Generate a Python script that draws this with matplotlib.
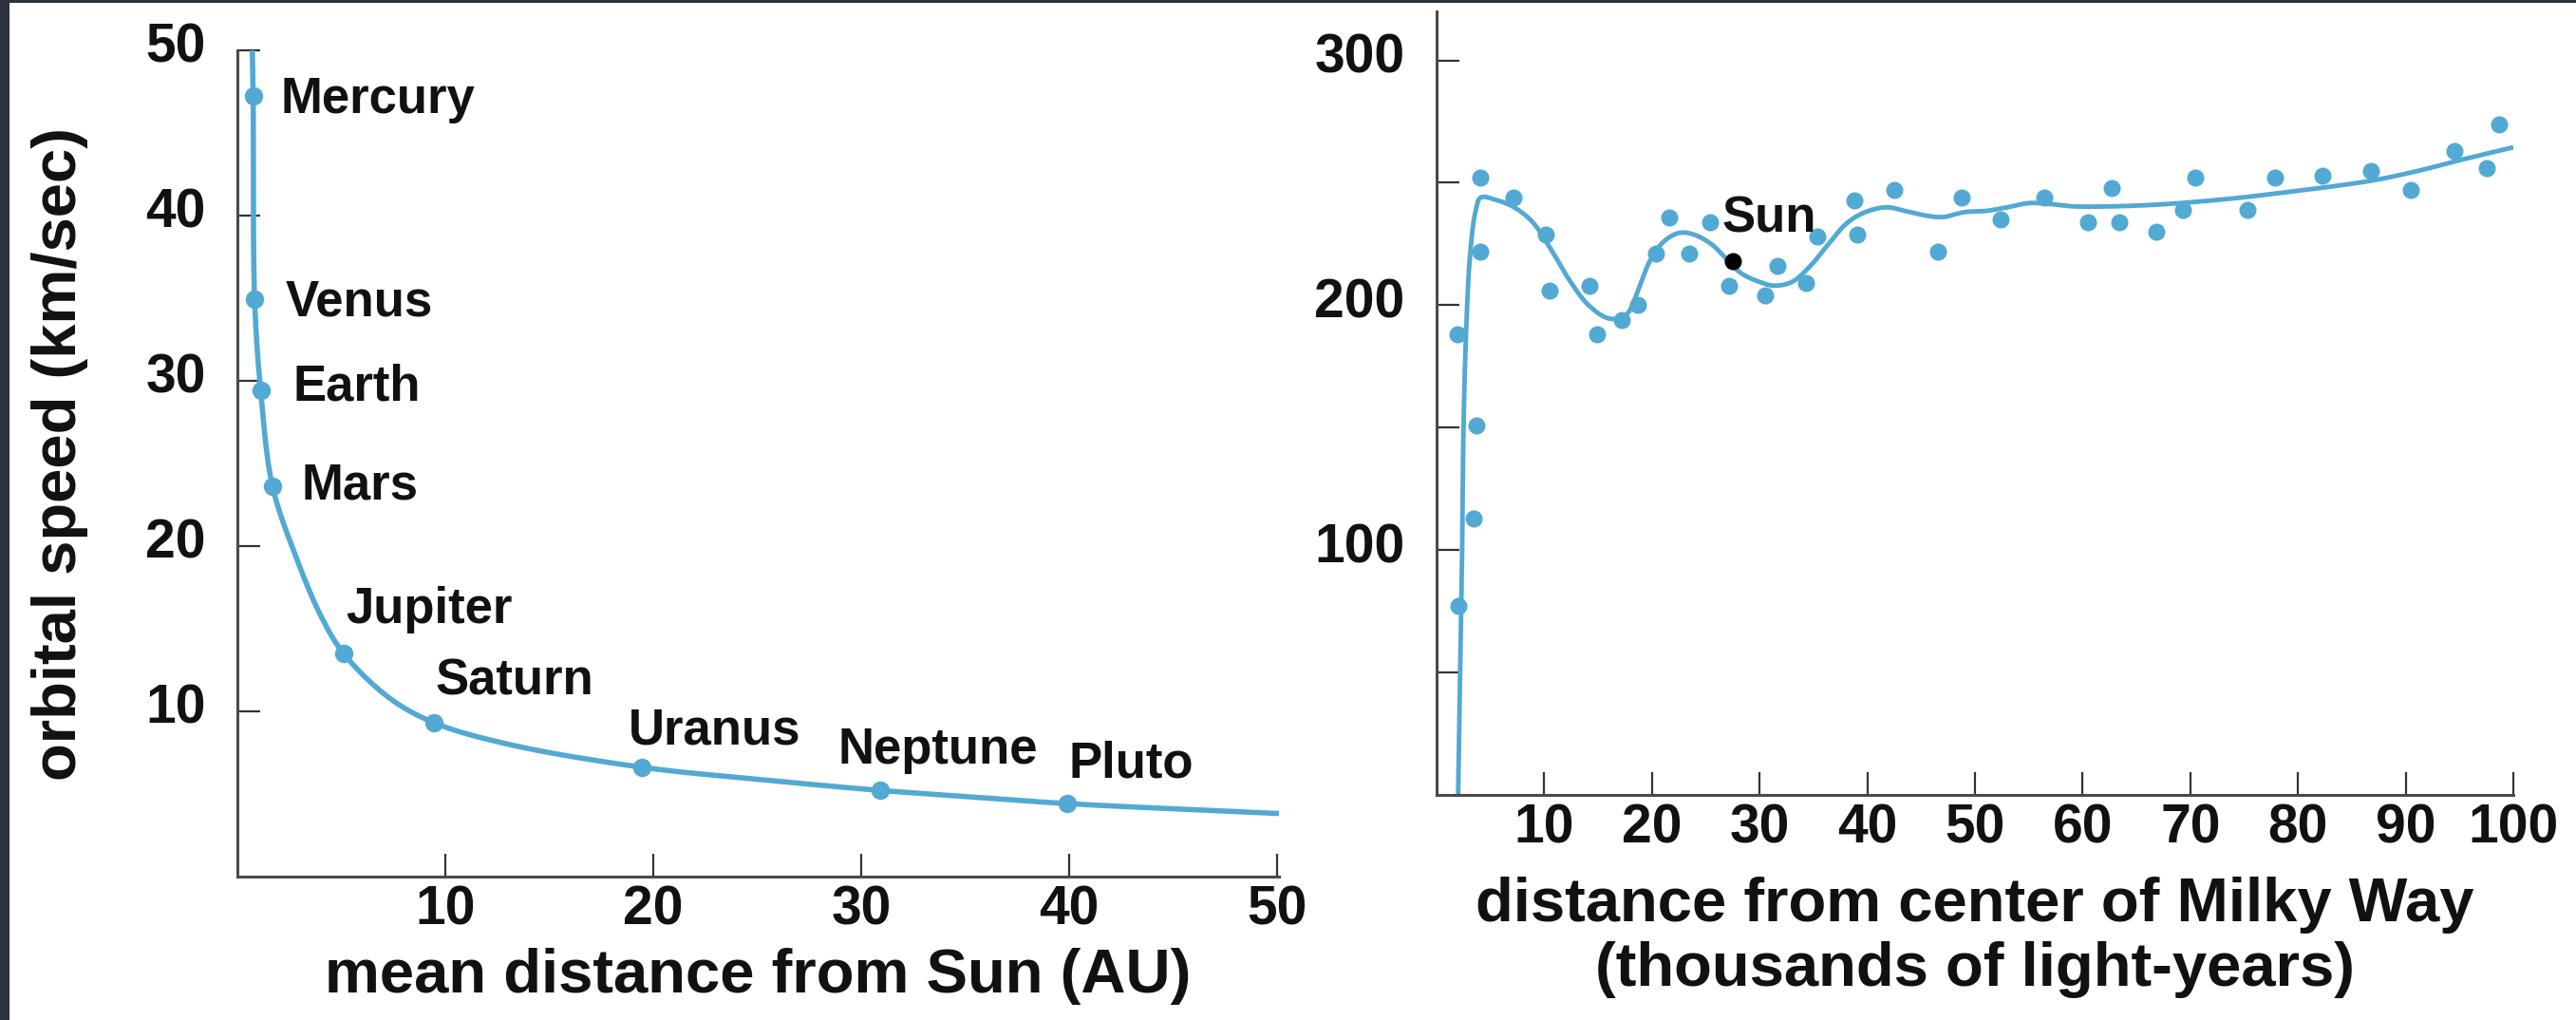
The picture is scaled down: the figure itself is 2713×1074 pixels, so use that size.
import numpy as np
import matplotlib
matplotlib.use("Agg")
import matplotlib.pyplot as plt
import matplotlib.transforms as mtransforms
from matplotlib.patches import Rectangle

# ---------------- data ----------------
# Solar system: mean distance (AU) and orbital speed (km/s)
planet_names = ["Mercury", "Venus", "Earth", "Mars", "Jupiter",
                "Saturn", "Uranus", "Neptune", "Pluto"]
planet_dist = [0.76, 0.83, 1.12, 1.69, 5.1, 9.45, 19.45, 30.9, 39.9]
planet_speed = [47.2, 34.9, 29.4, 23.6, 13.5, 9.3, 6.6, 5.2, 4.4]

# smooth trend line through the planets
kepler_x = [0.72, 0.76, 0.83, 1.12, 1.69, 2.8, 4.0, 5.1, 7.3, 9.45,
            13.0, 19.45, 25.2, 30.9, 35.4, 39.9, 50.1]
kepler_y = [50.0, 47.2, 34.9, 29.4, 23.6, 19.4, 15.8, 13.5, 10.8, 9.3,
            8.0, 6.6, 5.85, 5.2, 4.8, 4.4, 3.8]

# label anchors (left edge, baseline) for each planet
planet_label_x = [2.1, 2.33, 2.65, 3.06, 5.2, 9.5, 18.8, 28.9, 40.0]
planet_label_y = [46.2, 33.9, 28.8, 22.8, 15.3, 11.0, 8.0, 6.8, 6.0]

# Milky Way rotation: distance (thousands of ly) and speed (km/s)
galaxy_dist = [2.0, 3.4, 3.7, 1.9, 4.1, 4.1, 7.1, 10.1, 10.5, 14.2,
               14.9, 17.2, 18.7, 20.4, 21.6, 23.5, 25.4, 27.2, 30.5, 31.7,
               34.3, 35.4, 38.8, 39.1, 42.5, 46.6, 48.8, 52.4, 56.4, 60.5,
               62.7, 63.4, 66.8, 69.3, 70.5, 75.3, 77.9, 82.3, 86.8, 90.5,
               94.5, 97.5, 98.7]
galaxy_speed = [77, 113, 151, 188, 252, 222, 244, 229, 206, 208,
                188, 194, 200, 221, 236, 221, 234, 208, 204, 216,
                209, 228, 243, 229, 247, 222, 244, 235, 244, 234,
                248, 234, 230, 239, 252, 239, 252, 253, 255, 247,
                263, 256, 274]

sun_dist, sun_speed = 27.5, 218

rotation_x = [2.0, 2.35, 2.5, 2.75, 3.1, 3.6, 4.1, 5.5, 7.2, 8.9,
              10.6, 12.3, 14.0, 15.7, 16.7, 17.7, 18.8, 19.8, 21.1, 22.5,
              23.8, 25.5, 26.9, 28.3, 30.0, 31.3, 33.0, 34.7, 36.4, 38.1,
              39.8, 41.8, 43.5, 45.6, 47.0, 49.0, 51.0, 53.0, 55.0, 56.6,
              59.0, 63.0, 67.0, 71.0, 75.0, 79.0, 83.0, 87.0, 91.0, 95.0,
              100.0]
rotation_y = [0, 92, 150, 190, 220, 238, 244, 243, 240, 234,
              223, 210.5, 200.5, 195, 194.5, 196.5, 207, 218, 226, 229.5,
              229, 225, 219, 213, 209.5, 208, 209.5, 216, 225, 233.5,
              238, 240, 238.5, 236.5, 236, 238, 238.5, 240, 241.7, 241.5,
              240.4, 240.4, 241.1, 242.4, 244.1, 246.2, 248.4, 251, 254.7, 259.2,
              264.5]

left_xticks = [10, 20, 30, 40, 50]
left_yticks = [10, 20, 30, 40, 50]
right_xticks = [10, 20, 30, 40, 50, 60, 70, 80, 90, 100]
right_yticks = [50, 100, 150, 200, 250, 300]
right_ytick_labels = ["", "100", "", "200", "", "300"]

# ---------------- style ----------------
BLUE = "#52a9d3"
INK = "#111111"
AXIS = "#4a4a4a"
FONT = "Liberation Sans"
TICK_FS = 41
LABEL_FS = 47
NOTE_FS = 38

W, H, DPI = 2713, 1074, 100
fig = plt.figure(figsize=(W / DPI, H / DPI), dpi=DPI)
fig.patch.set_facecolor("white")

# dark frame strips along the left and top edges
fig.patches.append(Rectangle((0, 0), 10 / W, 1, transform=fig.transFigure,
                             facecolor="#2d3241", edgecolor="none", zorder=0))
fig.patches.append(Rectangle((0, 1 - 2.5 / H), 1, 2.5 / H, transform=fig.transFigure,
                             facecolor="#2d3241", edgecolor="none", zorder=0))


def fpos(x0, x1, ytop, ybot):
    return [x0 / W, 1 - ybot / H, (x1 - x0) / W, (ybot - ytop) / H]


ax1 = fig.add_axes(fpos(250, 1347, 52.7, 922.7))
ax2 = fig.add_axes(fpos(1513, 2647, 12, 837))


def smooth_curve(ax, xs, ys, n=24, alpha=0.5):
    """Centripetal Catmull-Rom curve through the given points (screen space)."""
    P = ax.transData.transform(np.column_stack([xs, ys]))
    P = np.vstack([2 * P[0] - P[1], P, 2 * P[-1] - P[-2]])
    out = []
    for i in range(1, len(P) - 2):
        p0, p1, p2, p3 = P[i - 1], P[i], P[i + 1], P[i + 2]
        t0 = 0.0
        t1 = t0 + max(np.linalg.norm(p1 - p0), 1e-6) ** alpha
        t2 = t1 + max(np.linalg.norm(p2 - p1), 1e-6) ** alpha
        t3 = t2 + max(np.linalg.norm(p3 - p2), 1e-6) ** alpha
        t = np.linspace(t1, t2, n, endpoint=False)[:, None]
        A1 = (t1 - t) / (t1 - t0) * p0 + (t - t0) / (t1 - t0) * p1
        A2 = (t2 - t) / (t2 - t1) * p1 + (t - t1) / (t2 - t1) * p2
        A3 = (t3 - t) / (t3 - t2) * p2 + (t - t2) / (t3 - t2) * p3
        B1 = (t2 - t) / (t2 - t0) * A1 + (t - t0) / (t2 - t0) * A2
        B2 = (t3 - t) / (t3 - t1) * A2 + (t - t1) / (t3 - t1) * A3
        out.append((t2 - t) / (t2 - t1) * B1 + (t - t1) / (t2 - t1) * B2)
    out.append(P[-2][None, :])
    D = ax.transData.inverted().transform(np.vstack(out))
    return D[:, 0], D[:, 1]


def style_axes(ax):
    for side in ("top", "right"):
        ax.spines[side].set_visible(False)
    for side in ("left", "bottom"):
        ax.spines[side].set_color(AXIS)
        ax.spines[side].set_linewidth(2.2)
    ax.tick_params(direction="in", length=17, width=1.6, color="#333333",
                   labelsize=TICK_FS, labelcolor=INK)
    ax.tick_params(axis="x", pad=6)
    ax.tick_params(axis="y", pad=24)
    for lab in ax.get_xticklabels() + ax.get_yticklabels():
        lab.set_fontfamily(FONT)
        lab.set_fontweight("bold")
    shift = mtransforms.ScaledTranslation(0, 8 / DPI, fig.dpi_scale_trans)
    for lab in ax.get_yticklabels():
        lab.set_transform(lab.get_transform() + shift)


# ---------------- left panel: planets ----------------
ax1.set_xlim(0, 50.1)
ax1.set_ylim(0, 50)
ax1.set_xticks(left_xticks)
ax1.set_yticks(left_yticks)
ax1.set_xticklabels([str(v) for v in left_xticks])
ax1.set_yticklabels([str(v) for v in left_yticks])
style_axes(ax1)

cx, cy = smooth_curve(ax1, kepler_x, kepler_y)
ax1.plot(cx, cy, color=BLUE, lw=4.0, solid_capstyle="butt", zorder=2)
ax1.plot(planet_dist, planet_speed, "o", color=BLUE, ms=14, mec="none", zorder=3)
for name, lx, ly in zip(planet_names, planet_label_x, planet_label_y):
    ax1.text(lx, ly, name, ha="left", va="baseline", fontsize=NOTE_FS,
             fontfamily=FONT, fontweight="bold", color=INK)

# ---------------- right panel: Milky Way ----------------
ax2.set_xlim(0, 100)
ax2.set_ylim(0, 320)
ax2.set_xticks(right_xticks)
ax2.set_yticks(right_yticks)
ax2.set_xticklabels([str(v) for v in right_xticks])
ax2.set_yticklabels(right_ytick_labels)
style_axes(ax2)

rx, ry = smooth_curve(ax2, rotation_x, rotation_y)
ax2.plot(rx, ry, color=BLUE, lw=3.5, solid_capstyle="butt", zorder=2)
ax2.plot(galaxy_dist, galaxy_speed, "o", color=BLUE, ms=13, mec="none", zorder=3)
ax2.plot([sun_dist], [sun_speed], "o", color="black", ms=13, mec="none", zorder=4)
ax2.text(26.5, 229.7, "Sun", ha="left", va="baseline", fontsize=NOTE_FS,
         fontfamily=FONT, fontweight="bold", color=INK)

# ---------------- axis titles ----------------
fig.text(63 / W, 1 - 478 / H, "orbital speed (km/sec)", rotation=90,
         ha="center", va="center", fontsize=LABEL_FS, fontfamily=FONT,
         fontweight="bold", color=INK)
fig.text(798 / W, 1 - 1045 / H, "mean distance from Sun (AU)",
         ha="center", va="baseline", fontsize=LABEL_FS, fontfamily=FONT,
         fontweight="bold", color=INK)
fig.text(2080 / W, 1 - 970 / H, "distance from center of Milky Way",
         ha="center", va="baseline", fontsize=LABEL_FS, fontfamily=FONT,
         fontweight="bold", color=INK)
fig.text(2080 / W, 1 - 1038 / H, "(thousands of light-years)",
         ha="center", va="baseline", fontsize=LABEL_FS, fontfamily=FONT,
         fontweight="bold", color=INK)

fig.savefig("out.png", dpi=DPI, facecolor=fig.get_facecolor())
